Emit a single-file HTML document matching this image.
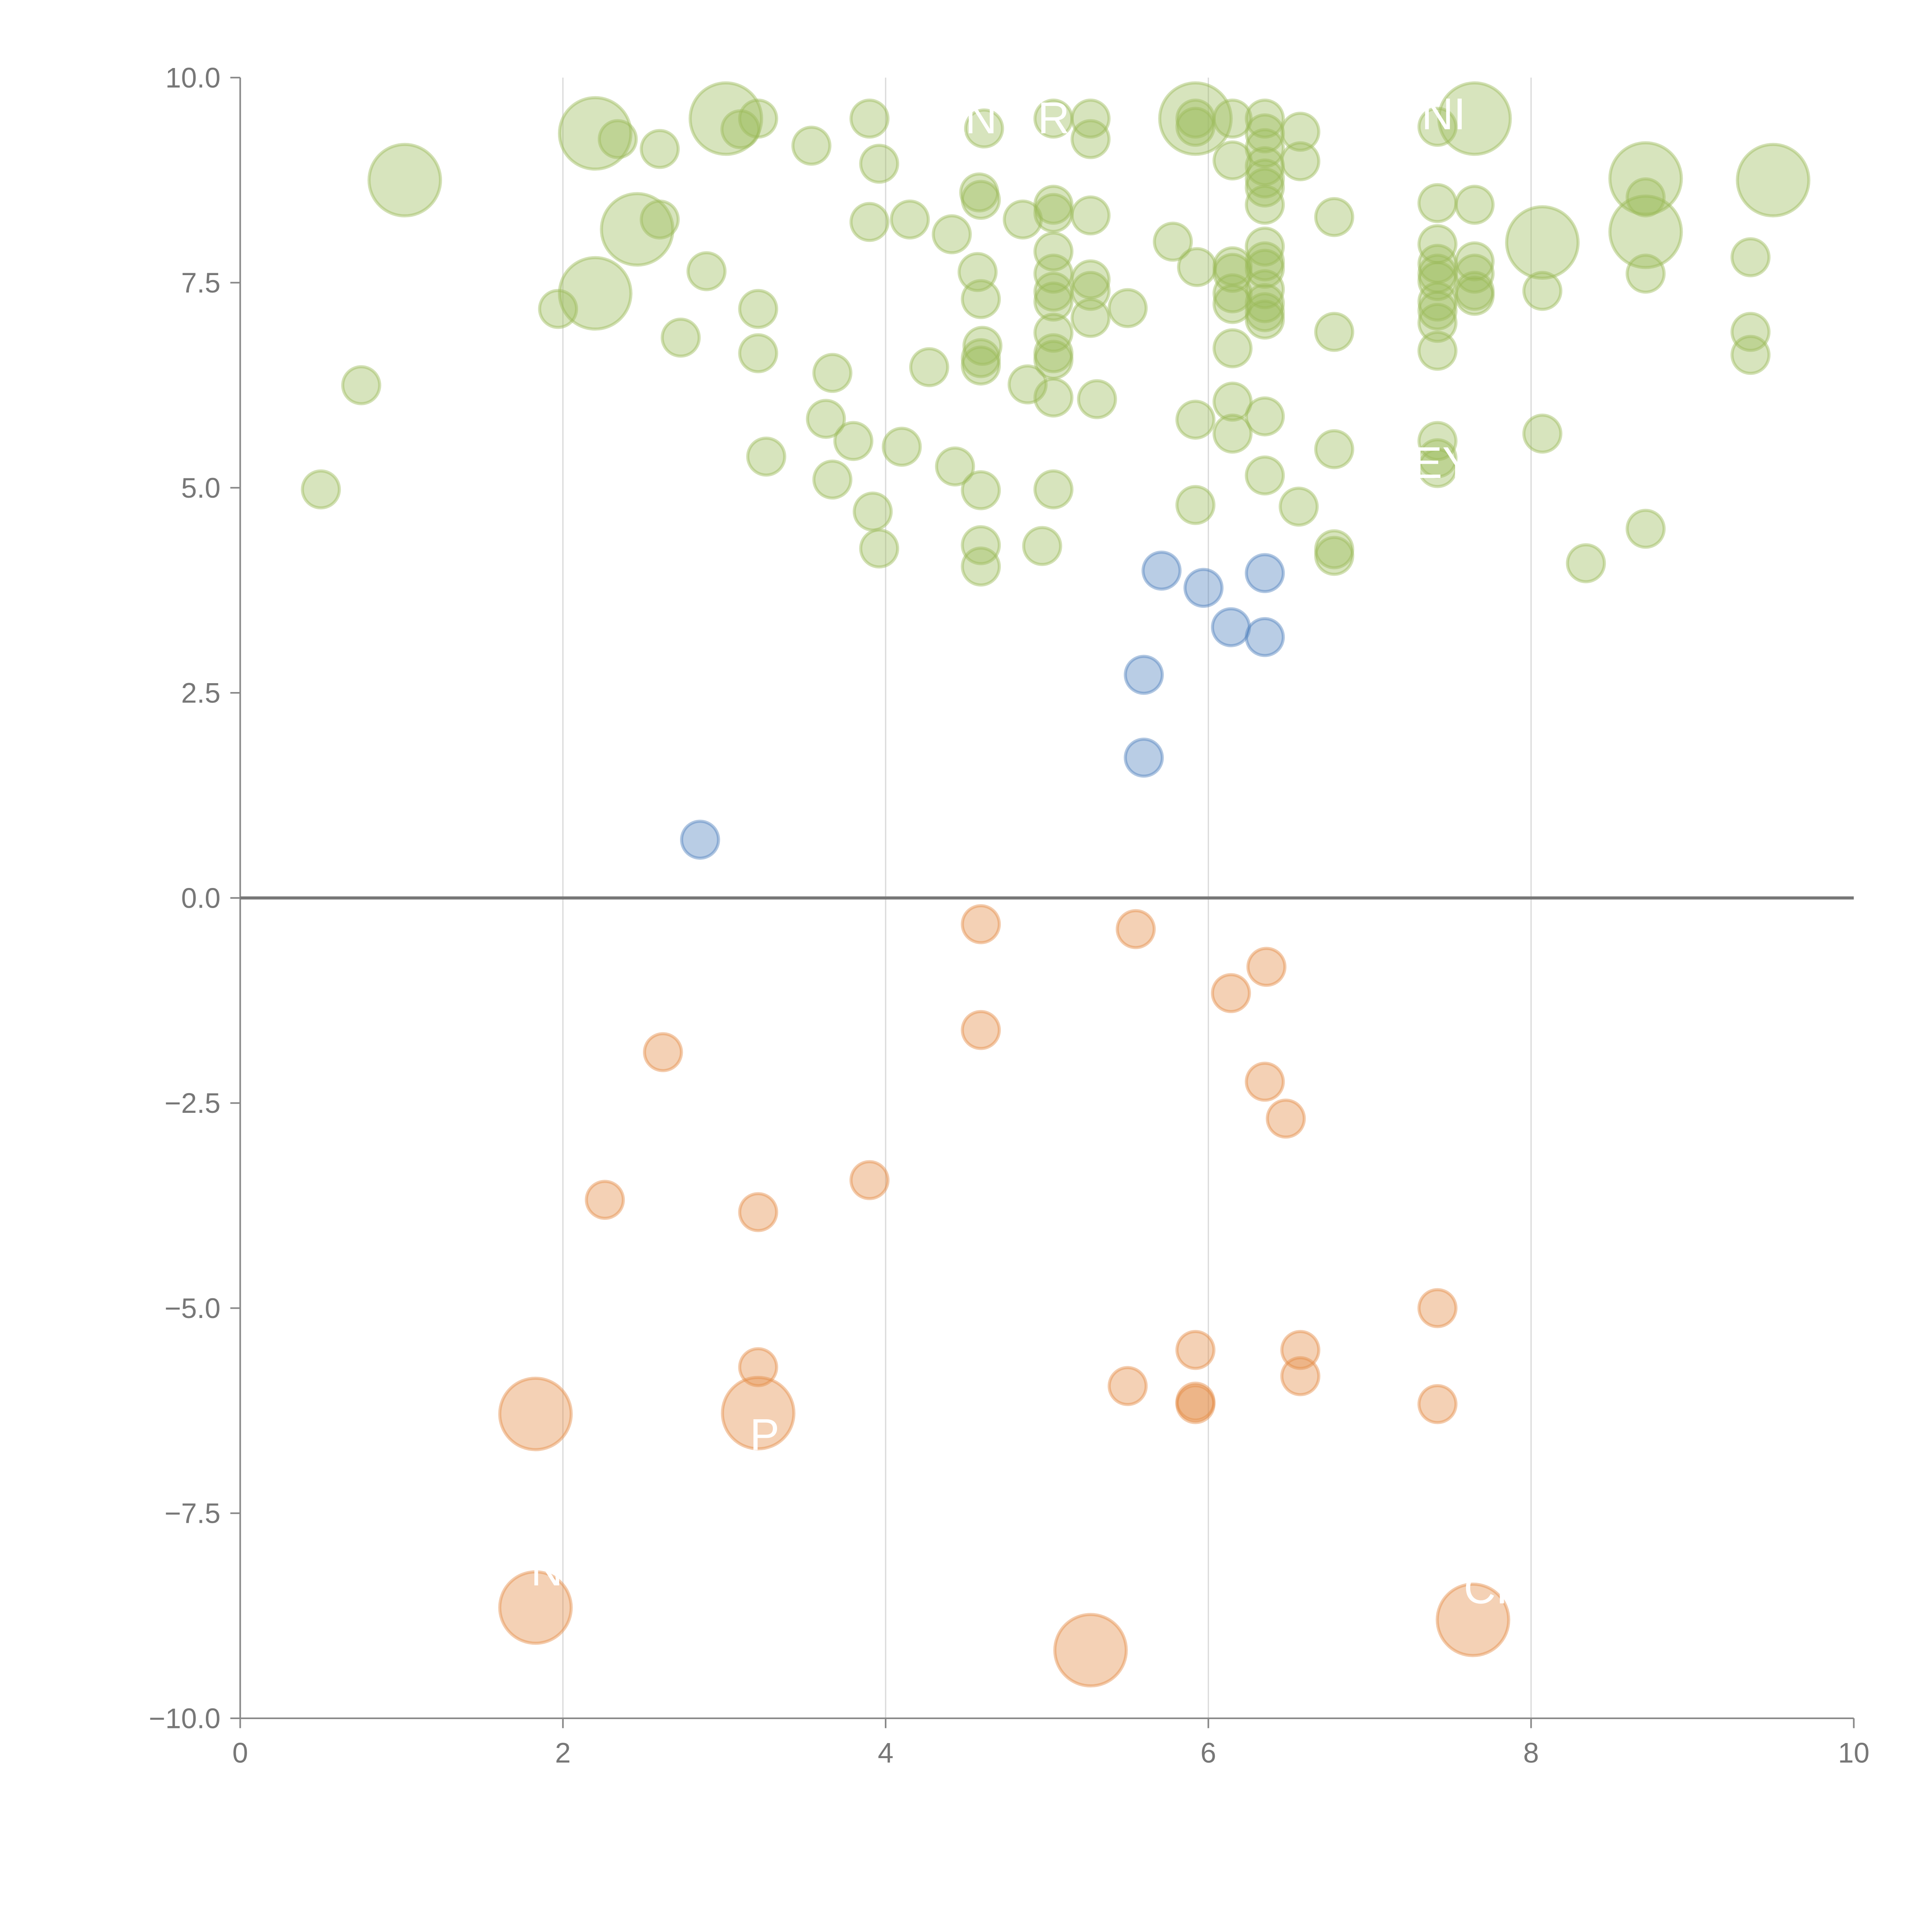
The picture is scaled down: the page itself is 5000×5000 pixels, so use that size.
<!DOCTYPE html>
<html><head><meta charset="utf-8"><style>html,body{margin:0;padding:0;background:#fff}svg{display:block}</style></head>
<body>
<svg id="chart" width="5000" height="5000" viewBox="0 0 1568.5 1568.5" xmlns="http://www.w3.org/2000/svg" font-family="Liberation Sans, Arial, sans-serif">
<g id="grid"></g>
<g id="axes"></g>
<g id="marks"></g>
<g id="labels"></g>
</svg>
<script>
const xTicks=[0,2,4,6,8,10];
const yTicks=[10,7.5,5,2.5,0,-2.5,-5,-7.5,-10];
const yTickLabels=["10.0","7.5","5.0","2.5","0.0","\u22122.5","\u22125.0","\u22127.5","\u221210.0"];
const greenX=[0.5,0.75,1.97,2.34,2.6,2.6,2.73,2.89,3.1,3.21,3.21,3.21,3.26,3.54,3.63,3.67,3.67,3.8,3.9,3.9,3.92,3.96,3.96,4.1,4.15,4.27,4.41,4.43,4.58,4.59,4.57,4.59,4.6,4.59,4.59,4.59,4.59,4.59,4.61,4.85,4.88,4.97,5.04,5.04,5.04,5.04,5.04,5.04,5.04,5.04,5.04,5.04,5.04,5.04,5.27,5.27,5.27,5.27,5.27,5.27,5.31,5.5,5.78,5.92,5.92,5.93,5.92,5.92,6.15,6.15,6.15,6.15,6.15,6.15,6.15,6.15,6.15,6.35,6.35,6.35,6.35,6.35,6.35,6.35,6.35,6.35,6.35,6.35,6.35,6.35,6.35,6.35,6.35,6.57,6.57,6.56,6.78,6.78,6.78,6.78,6.78,7.42,7.42,7.42,7.42,7.42,7.42,7.42,7.42,7.42,7.42,7.42,7.42,7.42,7.65,7.65,7.65,7.65,7.65,8.07,8.07,8.34,8.71,8.71,8.71,9.36,9.36,9.36];
const greenY=[4.98,6.25,7.18,9.25,9.13,8.27,6.83,7.64,9.37,9.5,7.18,6.64,5.38,9.17,5.84,6.4,5.1,5.57,9.5,8.24,4.71,8.95,4.26,5.5,8.27,6.47,8.09,5.26,8.6,8.51,7.63,7.3,6.73,6.58,6.49,4.97,4.3,4.04,9.38,8.27,6.26,4.29,9.5,8.45,8.35,7.88,7.61,7.39,7.27,6.89,6.64,6.56,6.1,4.98,9.5,9.25,8.32,7.54,7.4,7.07,6.08,7.19,8.0,9.5,9.4,7.69,5.83,4.79,9.5,8.99,7.7,7.62,7.37,7.24,6.7,6.05,5.66,9.5,9.32,9.14,8.92,8.77,8.66,8.45,7.94,7.76,7.67,7.42,7.25,7.14,7.05,5.87,5.15,9.34,8.98,4.77,8.3,6.9,5.47,4.25,4.17,9.4,8.47,7.97,7.73,7.61,7.52,7.27,7.16,7.01,6.67,5.57,5.36,5.24,8.45,7.76,7.61,7.4,7.34,7.4,5.66,4.08,8.54,7.61,4.5,7.81,6.9,6.62];
const greenBigX=[1.02,2.2,2.2,2.46,3.01,5.92,7.65,8.07,8.71,8.71,9.5];
const greenBigY=[8.75,9.32,7.37,8.15,9.5,9.5,9.5,7.99,8.77,8.12,8.75];
const blueX=[2.85,5.6,5.6,5.71,5.97,6.14,6.35,6.35];
const blueY=[0.71,2.72,1.71,3.99,3.78,3.3,3.96,3.18];
const orangeX=[4.59,5.55,6.36,6.14,4.59,2.62,6.35,6.48,3.9,2.26,3.21,7.42,5.92,6.57,3.21,6.57,5.5,5.92,5.92,7.42];
const orangeY=[-0.32,-0.38,-0.84,-1.16,-1.61,-1.88,-2.24,-2.69,-3.44,-3.68,-3.83,-5.0,-5.51,-5.51,-5.72,-5.83,-5.95,-6.14,-6.17,-6.17];
const orangeBigX=[1.83,3.21,1.83,5.27,7.64];
const orangeBigY=[-6.29,-6.28,-8.65,-9.17,-8.8];
const labelText=["AN","AR","INI","P","N","CI","EY"];
const labelX=[4.5,4.95,7.42,3.25,1.9,7.72,7.45];
const labelY=[9.5,9.5,9.55,-6.55,-8.2,-8.42,5.3];

const NS="http://www.w3.org/2000/svg";
const X0=195,X1=1505,Y0=63,Y1=1395;
const sx=v=>X0+(v-0)/(10-0)*(X1-X0);
const sy=v=>Y0+(10-v)/(20)*(Y1-Y0);
function mk(tag,attrs,parent){const e=document.createElementNS(NS,tag);for(const k in attrs)e.setAttribute(k,attrs[k]);parent.appendChild(e);return e;}
const grid=document.getElementById('grid'),axes=document.getElementById('axes'),marks=document.getElementById('marks'),labels=document.getElementById('labels');
xTicks.forEach(t=>{
  if(t>0&&t<10){const g=mk('line',{x1:sx(t),x2:sx(t),y1:Y0,y2:Y1,stroke:'#d9d9d9','stroke-width':1},grid);
  
  }
  const tk=mk('line',{x1:sx(t),x2:sx(t),y1:Y1,y2:Y1+8,stroke:'#888','stroke-width':1.3},axes);
  
  
  const tl=mk('text',{x:sx(t),y:Y1+36,'text-anchor':'middle','font-size':23,fill:'#777'},axes);
  tl.textContent=String(t);
  
  
});
yTicks.forEach((t,i)=>{
  const tk=mk('line',{x1:X0-8,x2:X0,y1:sy(t),y2:sy(t),stroke:'#888','stroke-width':1.3},axes);
  
  
  const tl=mk('text',{x:X0-16,y:sy(t)+8,'text-anchor':'end','font-size':23,fill:'#777'},axes);
  tl.textContent=yTickLabels[i];
  
  
});
const ya=mk('line',{x1:X0,x2:X0,y1:Y0,y2:Y1,stroke:'#888','stroke-width':1.3},axes);


const xa=mk('line',{x1:X0,x2:X1,y1:Y1,y2:Y1,stroke:'#888','stroke-width':1.3},axes);


const zl=mk('line',{x1:X0,x2:X1,y1:sy(0),y2:sy(0),stroke:'#777','stroke-width':2.5},axes);


function series(xs,ys,r,fill,name){
  xs.forEach((x,i)=>{
    const c=mk('circle',{cx:sx(x),cy:sy(ys[i]),r:r,fill:fill,'fill-opacity':0.4,stroke:fill,'stroke-opacity':0.45,'stroke-width':2.5},marks);
    
    
  });
}
series(greenX,greenY,15,'#9bbb59','positive-bubble');
series(greenBigX,greenBigY,29,'#9bbb59','positive-bubble-large');
series(blueX,blueY,15,'#4f81bd','neutral-bubble');
series(orangeX,orangeY,15,'#e48c46','negative-bubble');
series(orangeBigX,orangeBigY,29,'#e48c46','negative-bubble-large');
labelText.forEach((t,i)=>{
  const tx=mk('text',{x:sx(labelX[i]),y:sy(labelY[i])+12,'text-anchor':'middle','font-size':36,fill:'#fff'},labels);
  tx.textContent=t;
  
  
});
</script>
</body></html>
